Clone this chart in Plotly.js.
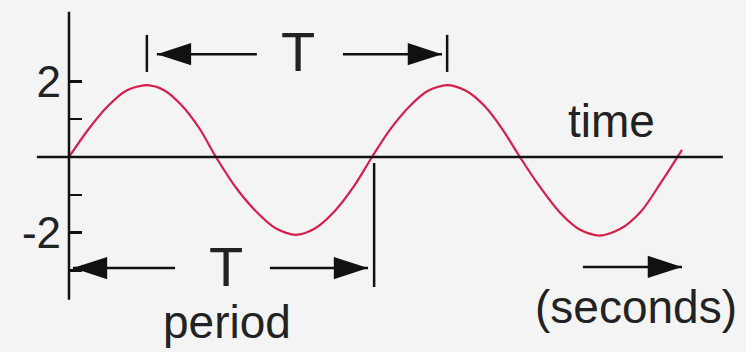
<!DOCTYPE html>
<html>
<head>
<meta charset="utf-8">
<script src="https://cdn.plot.ly/plotly-3.0.1.min.js"></script>
<style>
  html, body { margin: 0; padding: 0; background: #f4f4f4; }
  #chart { width: 746px; height: 352px; }
</style>
</head>
<body>
<div id="chart"></div>
<script>
// time in periods (T = 1), amplitude
const waveTime = [0, 0.065, 0.13, 0.19, 0.257, 0.315, 0.37, 0.43, 0.485,
                  0.55, 0.62, 0.685, 0.749, 0.81, 0.875, 0.94, 1.0,
                  1.06, 1.125, 1.185, 1.248, 1.31, 1.37, 1.43, 1.488,
                  1.555, 1.62, 1.685, 1.752, 1.82, 1.89, 1.955, 2.023];
const waveValue = [0, 0.74, 1.36, 1.76, 1.9, 1.76, 1.38, 0.76, 0,
                   -0.8, -1.46, -1.9, -2.06, -1.9, -1.45, -0.78, 0,
                   0.73, 1.35, 1.75, 1.9, 1.75, 1.36, 0.74, 0,
                   -0.8, -1.47, -1.92, -2.08, -1.9, -1.42, -0.66, 0.19];

const yTickVals = [-3, -2, -1, 1, 2];
const yTickText = ['', '-2', '', '', '2'];

// period markers: top one peak to peak, bottom one zero to zero
const topPeriod = [0.257, 1.248];
const bottomPeriod = [0, 1.007];

const axisSpanX = [-0.106, 2.158];
const axisSpanY = [-3.78, 3.84];

const INK = '#111111';
const FONT = 'Liberation Sans, Arial, Helvetica, sans-serif';

// arrows as [tailX, tipX, y]
const arrows = [
  [0.62, 0.29, 2.72],
  [0.904, 1.231, 2.72],
  [0.35, 0.013, -2.94],
  [0.663, 0.987, -2.94],
  [1.696, 2.023, -2.91]
];

const shaftX = [], shaftY = [], tipX = [], tipY = [], tipAngle = [];
arrows.forEach(([t0, t1, y]) => {
  shaftX.push(t0, t1, null);
  shaftY.push(y, y, null);
  tipX.push(t1);
  tipY.push(y);
  tipAngle.push(t1 > t0 ? 90 : -90);
});

// the little bars closing each period bracket
const barX = [topPeriod[0], topPeriod[0], null, topPeriod[1], topPeriod[1], null,
              bottomPeriod[1], bottomPeriod[1]];
const barY = [3.23, 2.25, null, 3.23, 2.25, null, -0.16, -3.44];

const wave = {
  x: waveTime,
  y: waveValue,
  type: 'scatter',
  mode: 'lines',
  line: { color: '#d81f4a', width: 2.2, shape: 'spline', smoothing: 0.8 },
  hoverinfo: 'skip'
};

const shafts = {
  x: shaftX,
  y: shaftY,
  type: 'scatter',
  mode: 'lines',
  line: { color: INK, width: 2.5 },
  hoverinfo: 'skip'
};

const tips = {
  x: tipX,
  y: tipY,
  type: 'scatter',
  mode: 'markers',
  marker: {
    symbol: 'arrow',
    size: 36,
    angle: tipAngle,
    color: INK,
    line: { width: 0 }
  },
  hoverinfo: 'skip'
};

const bars = {
  x: barX,
  y: barY,
  type: 'scatter',
  mode: 'lines',
  line: { color: INK, width: 2.5 },
  hoverinfo: 'skip'
};

function label(text, x, y, size) {
  return {
    x: x, y: y, xref: 'x', yref: 'y',
    text: text,
    showarrow: false,
    xanchor: 'center',
    yanchor: 'middle',
    font: { family: FONT, size: size, color: '#222222' }
  };
}

const layout = {
  width: 746,
  height: 352,
  margin: { l: 0, r: 0, t: 0, b: 0, pad: 0 },
  paper_bgcolor: '#f4f4f4',
  plot_bgcolor: '#f4f4f4',
  showlegend: false,
  font: { family: FONT, color: '#222222' },
  xaxis: {
    range: [-0.2277, 2.2343],
    visible: false,
    fixedrange: true
  },
  yaxis: {
    range: [-5.159, 4.153],
    anchor: 'free',
    position: 69 / 746,
    tickvals: yTickVals,
    ticktext: yTickText,
    ticks: 'inside',
    ticklen: 12,
    tickwidth: 2.5,
    tickcolor: INK,
    ticklabelstandoff: 8,
    tickfont: { family: FONT, size: 44, color: '#222222' },
    showline: false,
    showgrid: false,
    zeroline: false,
    automargin: false,
    fixedrange: true
  },
  shapes: [
    { type: 'line', xref: 'x', yref: 'y', x0: axisSpanX[0], x1: axisSpanX[1], y0: 0, y1: 0,
      line: { color: INK, width: 2.5 } },
    { type: 'line', xref: 'x', yref: 'y', x0: 0, x1: 0, y0: axisSpanY[0], y1: axisSpanY[1],
      line: { color: INK, width: 2.5 } }
  ],
  annotations: [
    label('T', 0.757, 2.78, 56),
    label('T', 0.518, -2.91, 56),
    label('time', 1.79, 0.95, 46),
    label('(seconds)', 1.871, -3.97, 46),
    label('period', 0.521, -4.37, 46)
  ]
};

Plotly.newPlot('chart', [wave, bars, shafts, tips], layout, { displayModeBar: false, staticPlot: true });
</script>
</body>
</html>
